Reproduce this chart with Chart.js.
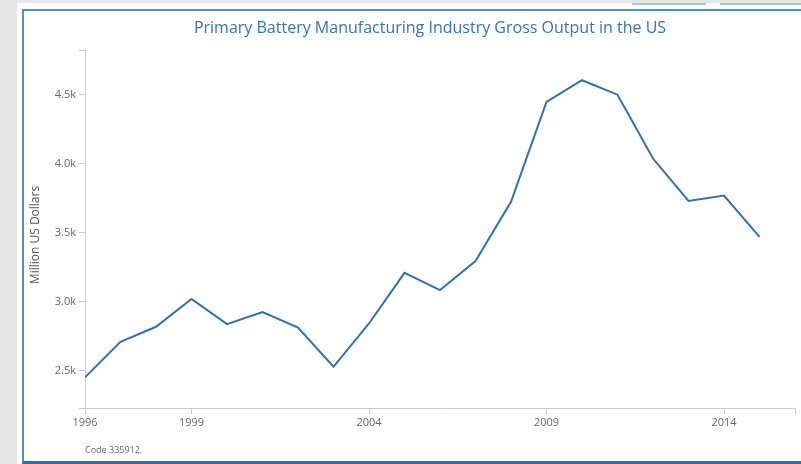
<!DOCTYPE html>
<html>
<head>
<meta charset="utf-8">
<script src="https://cdn.jsdelivr.net/npm/chart.js@4"></script>
<style>
  html, body { margin: 0; padding: 0; }
  body { width: 801px; height: 464px; background: #e6e6e6; position: relative; overflow: hidden; }
  .sheet { position: absolute; left: 17px; top: 3px; width: 800px; height: 470px; background: #fff; }
  .tab { position: absolute; top: 3px; height: 2px; background: #a9c7e0; }
  .frame { position: absolute; left: 22px; top: 9px; width: 800px; height: 450px;
           border-left: 2px solid #4f8fc8; border-top: 2px solid #4f8fc8; border-bottom: 3px solid #2f6ea8; }
  #wrap { position: absolute; left: 0; top: 0; width: 801px; height: 464px; }
</style>
</head>
<body>
<div class="sheet"></div>
<div class="tab" style="left:632px;width:74px"></div>
<div class="tab" style="left:720px;width:81px"></div>
<div class="frame"></div>
<div id="wrap"><canvas id="line-chart" width="801" height="464"></canvas></div>
<script>
var years = [1996, 1997, 1998, 1999, 2000, 2001, 2002, 2003, 2004, 2005,
             2006, 2007, 2008, 2009, 2010, 2011, 2012, 2013, 2014, 2015];
var grossOutput = [2452, 2710, 2819, 3020, 2838, 2925, 2814, 2529, 2843, 3210,
                   3085, 3295, 3725, 4449, 4607, 4502, 4039, 3732, 3771, 3471];
var xTicks = [1996, 1999, 2004, 2009, 2014, 2016];
var yTicks = [2230, 2500, 3000, 3500, 4000, 4500, 4826];
var yLabelled = [2500, 3000, 3500, 4000, 4500];

var chartTitle = "Primary Battery Manufacturing Industry Gross Output in the US";
var yTitle = "Million US Dollars";
var footNote = "Code 335912.";

var axisGray = "#cccccc";
var textGray = "#666666";

var textPlugin = {
  id: "texts",
  afterDraw: function(chart) {
    var ctx = chart.ctx;
    ctx.save();
    ctx.fillStyle = "#3574b2";
    ctx.font = "16px 'Open Sans'";
    ctx.textAlign = "center";
    ctx.textBaseline = "middle";
    ctx.fillText(chartTitle, 430, 28);

    ctx.fillStyle = "#555555";
    ctx.font = "12px 'Open Sans'";
    ctx.translate(36, 235);
    ctx.rotate(-Math.PI / 2);
    ctx.fillText(yTitle, 0, 0);
    ctx.restore();

    ctx.save();
    ctx.fillStyle = textGray;
    ctx.font = "9px 'Open Sans'";
    ctx.textAlign = "left";
    ctx.textBaseline = "middle";
    ctx.fillText(footNote, 85, 450);
    ctx.restore();
  }
};

new Chart(document.getElementById("line-chart"), {
  type: "line",
  data: {
    datasets: [{
      label: "Gross Output",
      data: years.map(function(y, i) { return { x: y, y: grossOutput[i] }; }),
      borderColor: "#2f72b0",
      borderWidth: 2,
      pointRadius: 0,
      tension: 0,
      fill: false
    }]
  },
  plugins: [textPlugin],
  options: {
    responsive: false,
    animation: false,
    layout: { padding: { left: 0, right: 6, top: 50, bottom: 0 } },
    plugins: {
      legend: { display: false },
      title: { display: false },
      tooltip: { enabled: false }
    },
    scales: {
      x: {
        type: "linear",
        min: 1996,
        max: 2016,
        afterBuildTicks: function(scale) {
          scale.ticks = xTicks.map(function(v) { return { value: v }; });
        },
        afterFit: function(scale) { scale.height = 56; },
        border: { color: axisGray, width: 1 },
        grid: { drawOnChartArea: false, drawTicks: true, tickLength: 6, color: axisGray },
        ticks: {
          autoSkip: false,
          maxRotation: 0,
          padding: 2,
          color: textGray,
          font: { family: "'Open Sans'", size: 11 },
          callback: function(v) { return v === 2016 ? "" : String(v); }
        }
      },
      y: {
        min: 2230,
        max: 4826,
        afterBuildTicks: function(scale) {
          scale.ticks = yTicks.map(function(v) { return { value: v }; });
        },
        afterFit: function(scale) { scale.width = 85; },
        border: { color: axisGray, width: 1 },
        grid: { drawOnChartArea: false, drawTicks: true, tickLength: 6, color: axisGray },
        ticks: {
          autoSkip: false,
          padding: 3,
          color: textGray,
          font: { family: "'Open Sans'", size: 11 },
          callback: function(v) {
            return yLabelled.indexOf(v) >= 0 ? (v / 1000).toFixed(1) + "k" : "";
          }
        }
      }
    }
  }
});
</script>
</body>
</html>
